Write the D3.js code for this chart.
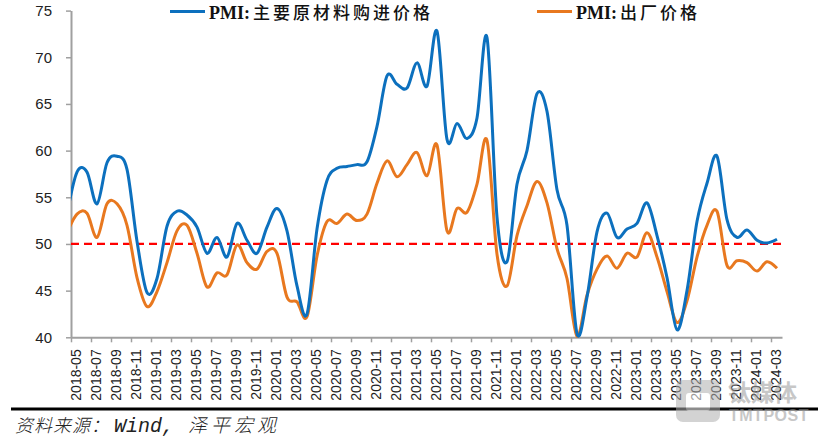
<!DOCTYPE html>
<html><head><meta charset="utf-8">
<script src="https://cdn.jsdelivr.net/npm/d3@7"></script>
<style>html,body{margin:0;padding:0;background:#fff;}svg{display:block;}</style>
</head><body><svg id="c" width="832" height="440"></svg>
<script>
// Months (first point 2018-04 lies just left of the axis and is clipped)
const months = d3.range(0, 72).map(i => { const d = new Date(2018, 3 + i, 1); return d3.timeFormat("%Y-%m")(d); });
const purchasePrice = [53.2,57.7,57.7,54.3,58.7,59.4,58.0,50.3,44.8,
  46.3,51.9,53.5,53.1,51.8,49.0,50.7,48.6,52.2,50.4,49.0,51.8,
  53.8,51.4,45.5,42.5,51.6,56.8,58.1,58.3,58.5,58.8,62.6,68.0,
  67.1,66.7,69.4,66.9,72.8,61.2,62.9,61.3,63.5,72.1,52.9,48.1,
  56.4,60.0,66.1,64.2,55.8,52.0,40.4,44.3,51.3,53.3,50.7,51.6,
  52.2,54.4,50.9,46.4,40.8,45.0,52.4,56.5,59.4,52.6,50.7,51.5,
  50.4,50.1,50.5];
const outputPrice = [51.2,53.2,53.3,50.7,54.3,54.3,52.0,46.4,43.3,
  44.9,48.0,51.4,52.0,49.0,45.4,46.9,46.7,49.9,48.0,47.3,49.2,
  49.0,44.3,43.8,42.2,48.7,52.4,52.2,53.2,52.5,53.2,56.5,58.9,
  57.2,58.5,59.8,57.3,60.6,51.4,53.8,53.4,56.4,61.1,48.9,45.5,
  50.9,54.1,56.7,54.4,49.5,46.3,40.1,44.5,47.3,48.7,47.4,49.0,
  48.6,51.2,48.6,44.9,41.6,43.9,48.6,52.0,53.5,47.7,48.2,48.0,
  47.1,48.1,47.4];
const tickLabels = months.slice(1).filter((m, i) => i % 2 === 0); // 2018-05 ... 2024-03
const yTicks = [40,45,50,55,60,65,70,75];
const refLine = 50;
const seriesNames = ["PMI:", "主要原材料购进价格", "出厂价格"];
const sourceText = ["资料来源：", "Wind,", "泽平宏观"];

const svg = d3.select("#c");
svg.append("rect").attr("width",832).attr("height",440).attr("fill","#fff");

// x: month index, 0 = 2018-05 tick
const x = d3.scaleLinear().domain([0, 71.1]).range([71, 782]);
const y = d3.scaleLinear().domain([40, 75]).range([337.3, 10.6]);
const xData = i => x(i - 1 + 0.6);

svg.append("clipPath").attr("id","clip").append("rect")
  .attr("x", 71).attr("y", 0).attr("width", 711).attr("height", 345);

// y axis
const yAxis = svg.append("g").attr("transform","translate(71,0)")
  .call(d3.axisLeft(y).tickValues(yTicks).tickSize(5).tickSizeOuter(0).tickPadding(14));
yAxis.select(".domain").attr("stroke","#a0a0a0").attr("stroke-width",2);
yAxis.selectAll(".tick line").attr("stroke","#a0a0a0").attr("stroke-width",1.5);
yAxis.selectAll("text").attr("font-family","'Liberation Sans', Arial, sans-serif")
  .attr("font-size","15px").attr("fill","#222");

// x axis
const tickIdx = tickLabels.map(m => months.indexOf(m) - 1);
const xAxis = svg.append("g").attr("transform","translate(0,337.3)")
  .call(d3.axisBottom(x).tickValues(tickIdx).tickSize(5).tickSizeOuter(0)
    .tickFormat((d,i) => tickLabels[i]));
xAxis.select(".domain").attr("stroke","#a0a0a0").attr("stroke-width",2);
xAxis.selectAll(".tick line").attr("stroke","#a0a0a0").attr("stroke-width",1.5);
xAxis.selectAll("text")
  .attr("font-family","'Liberation Sans', Arial, sans-serif")
  .attr("font-size","14px").attr("fill","#222")
  .attr("text-anchor","end")
  .attr("dominant-baseline","central")
  .attr("transform","translate(4.5,12) rotate(-90)")
  .attr("x",0).attr("y",0).attr("dy",null);

// reference line
svg.append("line")
  .attr("x1", x(0)).attr("x2", x(71.1))
  .attr("y1", y(refLine)).attr("y2", y(refLine))
  .attr("stroke","#ff0000").attr("stroke-width",2.2).attr("stroke-dasharray","8,5");

const line = d3.line().x((d,i) => xData(i)).y(d => y(d)).curve(d3.curveCatmullRom.alpha(0));
const g = svg.append("g").attr("clip-path","url(#clip)");
g.append("path").datum(outputPrice).attr("d", line)
  .attr("fill","none").attr("stroke","#E8781F").attr("stroke-width",3);
g.append("path").datum(purchasePrice).attr("d", line)
  .attr("fill","none").attr("stroke","#0C70BE").attr("stroke-width",3);

// legend
function legend(x1, x2, color, name) {
  svg.append("line").attr("x1",x1).attr("x2",x2).attr("y1",11.5).attr("y2",11.5)
    .attr("stroke",color).attr("stroke-width",3);
  const t = svg.append("text").attr("x", x2 + 4).attr("y", 18.5).attr("fill","#111");
  t.append("tspan").text(seriesNames[0])
    .attr("font-family","'Liberation Serif','Times New Roman',serif")
    .attr("font-weight","bold").attr("font-size","18px");
  t.append("tspan").text(name).attr("dx", 3)
    .attr("font-family","'Noto Sans CJK SC',sans-serif")
    .attr("font-weight","500").attr("font-size","17px").attr("letter-spacing","3px");
}
legend(170, 205, "#0C70BE", seriesNames[1]);
legend(537, 572, "#E8781F", seriesNames[2]);

// bottom rule and source
svg.append("line").attr("x1",11).attr("x2",818).attr("y1",409).attr("y2",409)
  .attr("stroke","#000").attr("stroke-width",3.2);
const s = svg.append("text").attr("x",15).attr("y",432).attr("fill","#222")
  .attr("font-style","italic");
s.append("tspan").text(sourceText[0]).attr("font-family","'Noto Sans CJK SC',sans-serif")
  .attr("font-weight","300").attr("font-size","18px").attr("letter-spacing","1px");
s.append("tspan").text(sourceText[1]).attr("font-family","'Liberation Mono',monospace")
  .attr("font-size","20px").attr("dx", 4);
s.append("tspan").text(sourceText[2]).attr("font-family","'Noto Sans CJK SC',sans-serif")
  .attr("font-weight","300").attr("font-size","19px").attr("letter-spacing","4px").attr("dx", 14);

// watermark
const wm = svg.append("g").attr("opacity",0.55);
wm.append("rect").attr("x",676).attr("y",380).attr("width",44).attr("height",42).attr("rx",7).attr("fill","#b0b0b0");
wm.append("rect").attr("x",686).attr("y",393).attr("width",24).attr("height",18).attr("rx",3).attr("fill","#fff");
wm.append("text").attr("x",728).attr("y",401).attr("font-family","'Noto Sans CJK SC',sans-serif")
  .attr("font-size","23px").attr("font-weight","bold").attr("fill","#9a9a9a").text("钛媒体");
wm.append("text").attr("x",729).attr("y",421).attr("font-family","'Liberation Sans',Arial,sans-serif")
  .attr("font-size","16px").attr("font-weight","bold").attr("fill","#9a9a9a").attr("letter-spacing","0.5px").text("TMTPOST");
</script></body></html>
